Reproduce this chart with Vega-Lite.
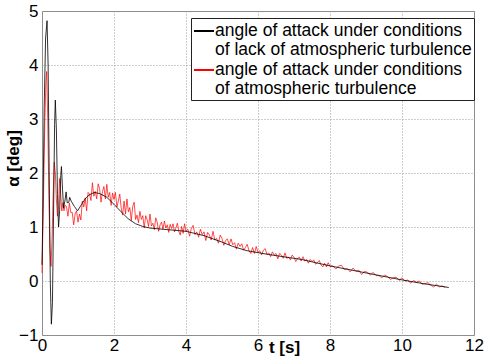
{
  "$schema": "https://vega.github.io/schema/vega-lite/v6.json",
  "autosize": "none",
  "padding": {"left": 42, "top": 11, "right": 10, "bottom": 27},
  "width": 432,
  "height": 324,
  "background": "white",
  "config": {
    "font": "Liberation Sans",
    "view": {"stroke": "#888888", "strokeWidth": 1},
    "axis": {
      "labelFont": "Liberation Sans",
      "titleFont": "Liberation Sans",
      "labelColor": "black",
      "titleColor": "black",
      "labelFontSize": 17,
      "titleFontSize": 17,
      "titleFontWeight": "bold",
      "domain": false,
      "ticks": false,
      "grid": true,
      "gridColor": "#9a9a9a",
      "gridDash": [1, 2],
      "gridWidth": 1,
      "gridOpacity": 1,
      "labelFlush": false,
      "labelOverlap": false
    }
  },
  "data": {
    "values": [
      {"s":"calm","t":0,"v":0.3},{"s":"calm","t":0.03,"v":1.5},{"s":"calm","t":0.06,"v":3.2},{"s":"calm","t":0.1,"v":4.5},{"s":"calm","t":0.14,"v":4.82},{"s":"calm","t":0.17,"v":4.0},{"s":"calm","t":0.2,"v":2.0},{"s":"calm","t":0.23,"v":0.0},{"s":"calm","t":0.26,"v":-0.8},{"s":"calm","t":0.29,"v":-0.4},{"s":"calm","t":0.32,"v":1.2},{"s":"calm","t":0.35,"v":2.9},{"s":"calm","t":0.37,"v":3.35},{"s":"calm","t":0.4,"v":2.8},{"s":"calm","t":0.43,"v":1.6},{"s":"calm","t":0.46,"v":1.0},{"s":"calm","t":0.49,"v":1.3},{"s":"calm","t":0.52,"v":1.95},{"s":"calm","t":0.54,"v":2.12},{"s":"calm","t":0.57,"v":1.7},{"s":"calm","t":0.6,"v":1.35},{"s":"calm","t":0.64,"v":1.5},{"s":"calm","t":0.67,"v":1.65},{"s":"calm","t":0.7,"v":1.45},{"s":"calm","t":0.74,"v":1.45},{"s":"calm","t":0.77,"v":1.55},{"s":"calm","t":0.81,"v":1.48},{"s":"calm","t":0.9,"v":1.38},{"s":"calm","t":0.99,"v":1.3},{"s":"calm","t":1.1,"v":1.42},{"s":"calm","t":1.2,"v":1.52},{"s":"calm","t":1.3,"v":1.59},{"s":"calm","t":1.45,"v":1.64},{"s":"calm","t":1.6,"v":1.62},{"s":"calm","t":1.8,"v":1.55},{"s":"calm","t":2.0,"v":1.42},{"s":"calm","t":2.2,"v":1.28},{"s":"calm","t":2.4,"v":1.15},{"s":"calm","t":2.6,"v":1.06},{"s":"calm","t":2.8,"v":1.01},{"s":"calm","t":3.0,"v":0.98},{"s":"calm","t":3.5,"v":0.95},{"s":"calm","t":4.0,"v":0.92},{"s":"calm","t":4.5,"v":0.84},{"s":"calm","t":5.0,"v":0.72},{"s":"calm","t":5.3,"v":0.64},{"s":"calm","t":5.7,"v":0.56},{"s":"calm","t":6.3,"v":0.49},{"s":"calm","t":7.2,"v":0.40},{"s":"calm","t":8.0,"v":0.28},{"s":"calm","t":9.0,"v":0.15},{"s":"calm","t":10.0,"v":0.02},{"s":"calm","t":10.6,"v":-0.05},{"s":"calm","t":11.3,"v":-0.12},
      {"s":"turb","t":0,"v":0.15},{"s":"turb","t":0.04,"v":1.5},{"s":"turb","t":0.08,"v":3.0},{"s":"turb","t":0.11,"v":3.7},{"s":"turb","t":0.13,"v":3.88},{"s":"turb","t":0.16,"v":3.0},{"s":"turb","t":0.19,"v":1.6},{"s":"turb","t":0.22,"v":0.6},{"s":"turb","t":0.25,"v":0.27},{"s":"turb","t":0.28,"v":0.8},{"s":"turb","t":0.31,"v":1.6},{"s":"turb","t":0.34,"v":2.2},{"s":"turb","t":0.37,"v":2.0},{"s":"turb","t":0.4,"v":1.5},{"s":"turb","t":0.43,"v":1.2},{"s":"turb","t":0.46,"v":1.4},{"s":"turb","t":0.49,"v":1.9},{"s":"turb","t":0.52,"v":1.6},{"s":"turb","t":0.55,"v":1.3},{"s":"turb","t":0.58,"v":1.45},{"s":"turb","t":0.61,"v":1.3},{"s":"turb","t":0.64,"v":1.4},
      {"s":"turb","t":0.68,"v":1.38},{"s":"turb","t":0.72,"v":1.20},{"s":"turb","t":0.76,"v":1.44},{"s":"turb","t":0.80,"v":1.27},{"s":"turb","t":0.84,"v":1.27},{"s":"turb","t":0.88,"v":1.04},{"s":"turb","t":0.92,"v":1.24},{"s":"turb","t":0.96,"v":1.30},{"s":"turb","t":1.00,"v":1.09},{"s":"turb","t":1.04,"v":1.24},{"s":"turb","t":1.08,"v":1.13},{"s":"turb","t":1.12,"v":1.48},{"s":"turb","t":1.16,"v":1.37},{"s":"turb","t":1.20,"v":1.54},{"s":"turb","t":1.24,"v":1.30},{"s":"turb","t":1.28,"v":1.64},{"s":"turb","t":1.32,"v":1.61},{"s":"turb","t":1.36,"v":1.49},{"s":"turb","t":1.40,"v":1.82},{"s":"turb","t":1.44,"v":1.57},{"s":"turb","t":1.48,"v":1.66},{"s":"turb","t":1.52,"v":1.52},{"s":"turb","t":1.56,"v":1.80},{"s":"turb","t":1.60,"v":1.71},{"s":"turb","t":1.64,"v":1.46},{"s":"turb","t":1.68,"v":1.66},{"s":"turb","t":1.72,"v":1.75},{"s":"turb","t":1.76,"v":1.52},{"s":"turb","t":1.80,"v":1.79},{"s":"turb","t":1.84,"v":1.55},{"s":"turb","t":1.88,"v":1.64},{"s":"turb","t":1.92,"v":1.40},{"s":"turb","t":1.96,"v":1.63},{"s":"turb","t":2.00,"v":1.51},{"s":"turb","t":2.04,"v":1.64},{"s":"turb","t":2.08,"v":1.37},{"s":"turb","t":2.12,"v":1.48},{"s":"turb","t":2.16,"v":1.61},{"s":"turb","t":2.20,"v":1.35},{"s":"turb","t":2.24,"v":1.22},{"s":"turb","t":2.28,"v":1.48},{"s":"turb","t":2.32,"v":1.24},{"s":"turb","t":2.36,"v":1.52},{"s":"turb","t":2.40,"v":1.28},{"s":"turb","t":2.44,"v":1.36},{"s":"turb","t":2.48,"v":1.12},{"s":"turb","t":2.52,"v":1.38},{"s":"turb","t":2.56,"v":1.46},{"s":"turb","t":2.60,"v":1.14},{"s":"turb","t":2.64,"v":1.22},{"s":"turb","t":2.68,"v":1.08},{"s":"turb","t":2.72,"v":1.29},{"s":"turb","t":2.76,"v":1.14},{"s":"turb","t":2.80,"v":1.21},{"s":"turb","t":2.84,"v":0.98},{"s":"turb","t":2.88,"v":1.21},{"s":"turb","t":2.92,"v":1.14},{"s":"turb","t":2.96,"v":1.01},{"s":"turb","t":3.00,"v":1.24},{"s":"turb","t":3.04,"v":1.02},{"s":"turb","t":3.08,"v":1.07},{"s":"turb","t":3.12,"v":0.95},{"s":"turb","t":3.16,"v":1.17},{"s":"turb","t":3.20,"v":1.09},{"s":"turb","t":3.24,"v":0.92},{"s":"turb","t":3.28,"v":1.04},{"s":"turb","t":3.32,"v":1.09},{"s":"turb","t":3.36,"v":0.96},{"s":"turb","t":3.40,"v":1.11},{"s":"turb","t":3.44,"v":0.98},{"s":"turb","t":3.48,"v":1.04},{"s":"turb","t":3.52,"v":0.90},{"s":"turb","t":3.56,"v":1.05},{"s":"turb","t":3.60,"v":0.97},{"s":"turb","t":3.64,"v":1.06},{"s":"turb","t":3.68,"v":0.91},{"s":"turb","t":3.72,"v":0.98},{"s":"turb","t":3.76,"v":1.07},{"s":"turb","t":3.80,"v":0.92},{"s":"turb","t":3.84,"v":0.85},{"s":"turb","t":3.88,"v":1.01},{"s":"turb","t":3.92,"v":0.88},{"s":"turb","t":3.96,"v":1.06},{"s":"turb","t":4.00,"v":0.92},
      {"s":"turb","t":4.05,"v":0.96},{"s":"turb","t":4.10,"v":0.83},{"s":"turb","t":4.15,"v":0.98},{"s":"turb","t":4.20,"v":1.03},{"s":"turb","t":4.25,"v":0.86},{"s":"turb","t":4.30,"v":0.91},{"s":"turb","t":4.35,"v":0.81},{"s":"turb","t":4.40,"v":0.96},{"s":"turb","t":4.45,"v":0.86},{"s":"turb","t":4.50,"v":0.91},{"s":"turb","t":4.55,"v":0.75},{"s":"turb","t":4.60,"v":0.90},{"s":"turb","t":4.65,"v":0.85},{"s":"turb","t":4.70,"v":0.76},{"s":"turb","t":4.75,"v":0.92},{"s":"turb","t":4.80,"v":0.76},{"s":"turb","t":4.85,"v":0.79},{"s":"turb","t":4.90,"v":0.70},{"s":"turb","t":4.95,"v":0.85},{"s":"turb","t":5.00,"v":0.79},{"s":"turb","t":5.05,"v":0.66},{"s":"turb","t":5.10,"v":0.75},{"s":"turb","t":5.15,"v":0.78},{"s":"turb","t":5.20,"v":0.67},{"s":"turb","t":5.25,"v":0.78},{"s":"turb","t":5.30,"v":0.67},{"s":"turb","t":5.35,"v":0.71},{"s":"turb","t":5.40,"v":0.59},{"s":"turb","t":5.45,"v":0.70},{"s":"turb","t":5.50,"v":0.64},{"s":"turb","t":5.55,"v":0.69},{"s":"turb","t":5.60,"v":0.57},{"s":"turb","t":5.65,"v":0.62},{"s":"turb","t":5.70,"v":0.68},{"s":"turb","t":5.75,"v":0.56},{"s":"turb","t":5.80,"v":0.51},{"s":"turb","t":5.85,"v":0.62},{"s":"turb","t":5.90,"v":0.51},{"s":"turb","t":5.95,"v":0.64},{"s":"turb","t":6.00,"v":0.53},{"s":"turb","t":6.05,"v":0.56},{"s":"turb","t":6.10,"v":0.48},{"s":"turb","t":6.15,"v":0.57},{"s":"turb","t":6.20,"v":0.60},{"s":"turb","t":6.25,"v":0.49},{"s":"turb","t":6.30,"v":0.52},{"s":"turb","t":6.35,"v":0.45},{"s":"turb","t":6.40,"v":0.54},{"s":"turb","t":6.45,"v":0.48},{"s":"turb","t":6.50,"v":0.51},{"s":"turb","t":6.55,"v":0.41},{"s":"turb","t":6.60,"v":0.51},{"s":"turb","t":6.65,"v":0.48},{"s":"turb","t":6.70,"v":0.42},{"s":"turb","t":6.75,"v":0.52},{"s":"turb","t":6.80,"v":0.42},{"s":"turb","t":6.85,"v":0.44},{"s":"turb","t":6.90,"v":0.39},{"s":"turb","t":6.95,"v":0.48},{"s":"turb","t":7.00,"v":0.44},{"s":"turb","t":7.05,"v":0.36},{"s":"turb","t":7.10,"v":0.42},{"s":"turb","t":7.15,"v":0.44},{"s":"turb","t":7.20,"v":0.37},{"s":"turb","t":7.25,"v":0.45},{"s":"turb","t":7.30,"v":0.37},{"s":"turb","t":7.35,"v":0.40},{"s":"turb","t":7.40,"v":0.33},{"s":"turb","t":7.45,"v":0.40},{"s":"turb","t":7.50,"v":0.36},{"s":"turb","t":7.55,"v":0.39},{"s":"turb","t":7.60,"v":0.31},{"s":"turb","t":7.65,"v":0.34},{"s":"turb","t":7.70,"v":0.38},{"s":"turb","t":7.75,"v":0.30},{"s":"turb","t":7.80,"v":0.26},{"s":"turb","t":7.85,"v":0.33},{"s":"turb","t":7.90,"v":0.26},{"s":"turb","t":7.95,"v":0.34},{"s":"turb","t":8.00,"v":0.27},
      {"s":"turb","t":8.08,"v":0.28},{"s":"turb","t":8.16,"v":0.22},{"s":"turb","t":8.24,"v":0.28},{"s":"turb","t":8.32,"v":0.29},{"s":"turb","t":8.40,"v":0.21},{"s":"turb","t":8.48,"v":0.23},{"s":"turb","t":8.56,"v":0.17},{"s":"turb","t":8.64,"v":0.24},{"s":"turb","t":8.72,"v":0.18},{"s":"turb","t":8.80,"v":0.20},{"s":"turb","t":8.88,"v":0.12},{"s":"turb","t":8.96,"v":0.18},{"s":"turb","t":9.04,"v":0.16},{"s":"turb","t":9.12,"v":0.11},{"s":"turb","t":9.20,"v":0.16},{"s":"turb","t":9.28,"v":0.10},{"s":"turb","t":9.36,"v":0.10},{"s":"turb","t":9.44,"v":0.06},{"s":"turb","t":9.52,"v":0.11},{"s":"turb","t":9.60,"v":0.08},{"s":"turb","t":9.68,"v":0.03},{"s":"turb","t":9.76,"v":0.06},{"s":"turb","t":9.84,"v":0.07},{"s":"turb","t":9.92,"v":0.01},{"s":"turb","t":10.00,"v":0.06},{"s":"turb","t":10.08,"v":0.00},{"s":"turb","t":10.16,"v":0.02},{"s":"turb","t":10.24,"v":-0.04},{"s":"turb","t":10.32,"v":0.01},{"s":"turb","t":10.40,"v":-0.02},{"s":"turb","t":10.48,"v":0.00},{"s":"turb","t":10.56,"v":-0.06},{"s":"turb","t":10.64,"v":-0.05},{"s":"turb","t":10.72,"v":-0.03},{"s":"turb","t":10.80,"v":-0.08},{"s":"turb","t":10.88,"v":-0.11},{"s":"turb","t":10.96,"v":-0.06},{"s":"turb","t":11.04,"v":-0.11},{"s":"turb","t":11.12,"v":-0.09},{"s":"turb","t":11.20,"v":-0.12}
    ]
  },
  "encoding": {
    "x": {
      "field": "t", "type": "quantitative",
      "scale": {"domain": [0, 12], "nice": false, "zero": false},
      "axis": {
        "values": [0, 2, 4, 6, 8, 10, 12],
        "title": "t [s]",
        "titleX": 242, "titleY": 12,
        "titleAlign": "center", "titleBaseline": "middle",
        "labelPadding": 2
      }
    },
    "y": {
      "field": "v", "type": "quantitative",
      "scale": {"domain": [-1, 5], "nice": false, "zero": false},
      "axis": {
        "values": [-1, 0, 1, 2, 3, 4, 5],
        "title": "α [deg]",
        "titleX": -29, "titleY": 147,
        "titleAlign": "center", "titleBaseline": "middle",
        "labelPadding": 4
      }
    },
    "color": {
      "field": "s", "type": "nominal",
      "scale": {"domain": ["calm", "turb"], "range": ["#000000", "#ff0000"]},
      "legend": {
        "orient": "none",
        "legendX": 149,
        "legendY": 7,
        "title": null,
        "symbolType": "stroke",
        "symbolSize": 400,
        "symbolStrokeWidth": 2,
        "symbolOpacity": 1,
        "labelFont": "Liberation Sans",
        "labelFontSize": 17.5,
        "labelColor": "black",
        "labelLimit": 400,
        "labelOffset": 0,
        "labelBaseline": "top",
        "strokeColor": "#222222",
        "fillColor": "white",
        "padding": 2,
        "rowPadding": 0,
        "labelExpr": "datum.label == 'calm' ? ['angle of attack under conditions', 'of lack of atmospheric turbulence'] : ['angle of attack under conditions', 'of atmospheric turbulence']",
        "encode": {
          "labels": {"update": {"dy": {"value": -9}, "lineHeight": {"value": 19}}}
        }
      }
    }
  },
  "layer": [
    {
      "transform": [{"filter": "datum.s == 'turb'"}],
      "mark": {"type": "line", "strokeWidth": 1, "opacity": 0.7}
    },
    {
      "transform": [{"filter": "datum.s == 'calm'"}],
      "mark": {"type": "line", "strokeWidth": 1, "opacity": 0.8}
    }
  ]
}
